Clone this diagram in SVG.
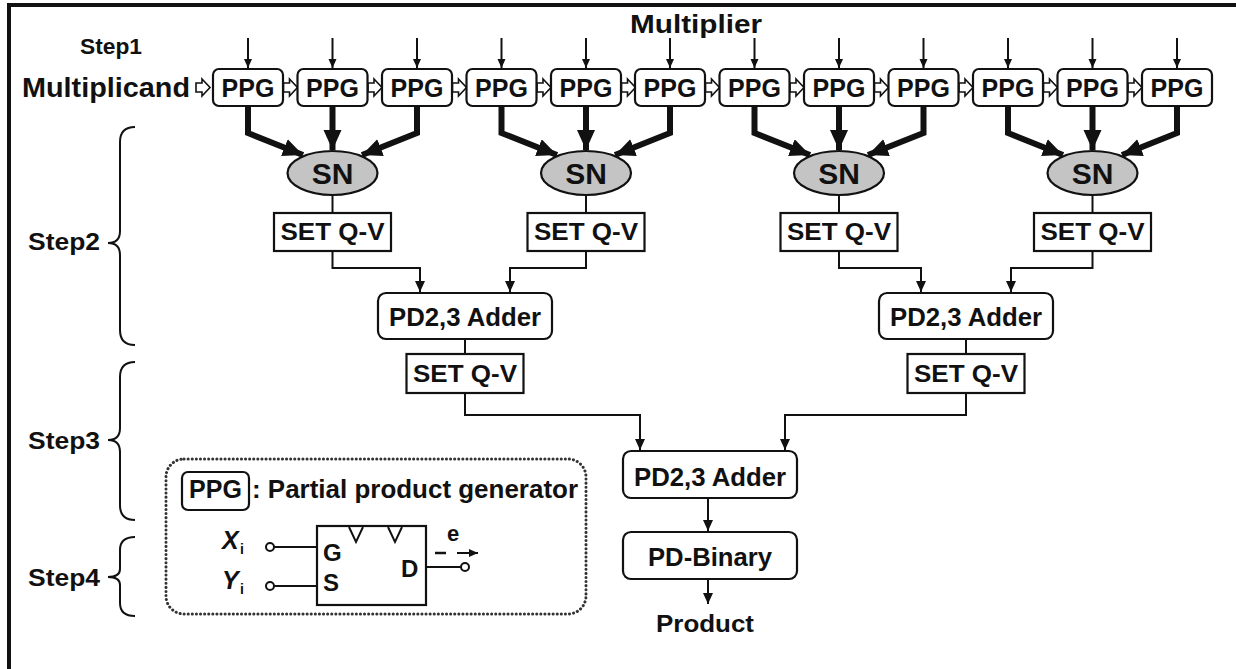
<svg xmlns="http://www.w3.org/2000/svg" width="1236" height="669" viewBox="0 0 1236 669">
<style>
text{font-family:"Liberation Sans",Arial,sans-serif;font-weight:bold;fill:#111}
.box{fill:#fff;stroke:#111;stroke-width:2.2}
.sn{fill:#c4c4c4;stroke:#111;stroke-width:2.2}
.thin{fill:none;stroke:#111;stroke-width:2}
.thick{fill:none;stroke:#111;stroke-width:6;stroke-linejoin:miter}
.ha{fill:#fff;stroke:#111;stroke-width:1.6;stroke-linejoin:miter}
.c{text-anchor:middle}
</style>
<defs>
<marker id="ah" markerUnits="userSpaceOnUse" markerWidth="12" markerHeight="12" refX="11" refY="5" orient="auto"><path d="M0,0 L11,5 L0,10 Z" fill="#111"/></marker>
<marker id="ahs" markerUnits="userSpaceOnUse" markerWidth="10" markerHeight="10" refX="9" refY="4" orient="auto"><path d="M0,0 L9,4 L0,8 Z" fill="#111"/></marker>
<marker id="aht" markerUnits="userSpaceOnUse" markerWidth="22" markerHeight="20" refX="20" refY="9" orient="auto"><path d="M0,0 L20,9 L0,18 Z" fill="#111"/></marker>
<path id="hollow" d="M0,-4.5 H6 V-8.5 L14,0 L6,8.5 V4.5 H0 Z"/>
</defs>
<rect x="0" y="0" width="1236" height="669" fill="#fff"/>
<line x1="7" y1="5" x2="1236" y2="5" stroke="#111" stroke-width="4"/>
<line x1="9" y1="3" x2="9" y2="669" stroke="#111" stroke-width="4"/>

<g id="labels">
<text x="630" y="33" font-size="25" textLength="132" lengthAdjust="spacingAndGlyphs">Multiplier</text>
<text x="80" y="54" font-size="22" textLength="62" lengthAdjust="spacingAndGlyphs">Step1</text>
<text x="22" y="97" font-size="27" textLength="168" lengthAdjust="spacingAndGlyphs">Multiplicand</text>
<text x="28" y="250" font-size="23" textLength="72" lengthAdjust="spacingAndGlyphs">Step2</text>
<text x="28" y="449" font-size="23" textLength="72" lengthAdjust="spacingAndGlyphs">Step3</text>
<text x="28" y="586" font-size="23" textLength="72" lengthAdjust="spacingAndGlyphs">Step4</text>
<text class="c" x="705" y="632" font-size="24" textLength="98" lengthAdjust="spacingAndGlyphs">Product</text>
</g>

<g id="braces" class="thin">
<path class="thin" d="M135,127 Q120,127 120,142 V231 Q120,243 108,243 Q120,243 120,255 V330 Q120,345 135,345"/>
<path class="thin" d="M135,362 Q120,362 120,377 V428 Q120,440 108,440 Q120,440 120,452 V505 Q120,520 135,520"/>
<path class="thin" d="M135,537 Q120,537 120,550 V569 Q120,577 108,577 Q120,577 120,585 V603 Q120,616 135,616"/>
</g>

<g id="connectors">
<g class="thin" stroke-width="1.6">
<line x1="248" y1="38" x2="248" y2="68" marker-end="url(#ahs)" class="thin"/>
<line x1="332.5" y1="38" x2="332.5" y2="68" marker-end="url(#ahs)" class="thin"/>
<line x1="417" y1="38" x2="417" y2="68" marker-end="url(#ahs)" class="thin"/>
<line x1="501.5" y1="38" x2="501.5" y2="68" marker-end="url(#ahs)" class="thin"/>
<line x1="586" y1="38" x2="586" y2="68" marker-end="url(#ahs)" class="thin"/>
<line x1="670" y1="38" x2="670" y2="68" marker-end="url(#ahs)" class="thin"/>
<line x1="754.5" y1="38" x2="754.5" y2="68" marker-end="url(#ahs)" class="thin"/>
<line x1="839" y1="38" x2="839" y2="68" marker-end="url(#ahs)" class="thin"/>
<line x1="923.5" y1="38" x2="923.5" y2="68" marker-end="url(#ahs)" class="thin"/>
<line x1="1008" y1="38" x2="1008" y2="68" marker-end="url(#ahs)" class="thin"/>
<line x1="1092.5" y1="38" x2="1092.5" y2="68" marker-end="url(#ahs)" class="thin"/>
<line x1="1177" y1="38" x2="1177" y2="68" marker-end="url(#ahs)" class="thin"/>
</g>
<use href="#hollow" class="ha" x="196" y="87.5"/>
<use href="#hollow" class="ha" x="283.5" y="87.5"/>
<use href="#hollow" class="ha" x="368" y="87.5"/>
<use href="#hollow" class="ha" x="452.5" y="87.5"/>
<use href="#hollow" class="ha" x="537" y="87.5"/>
<use href="#hollow" class="ha" x="621.5" y="87.5"/>
<use href="#hollow" class="ha" x="705.5" y="87.5"/>
<use href="#hollow" class="ha" x="790" y="87.5"/>
<use href="#hollow" class="ha" x="874.5" y="87.5"/>
<use href="#hollow" class="ha" x="959" y="87.5"/>
<use href="#hollow" class="ha" x="1043.5" y="87.5"/>
<use href="#hollow" class="ha" x="1128" y="87.5"/>
<path class="thick" d="M248,106 V133 L303,155" marker-end="url(#aht)"/>
<path class="thick" d="M332.5,106 V150" marker-end="url(#aht)"/>
<path class="thick" d="M417,106 V133 L362,155" marker-end="url(#aht)"/>
<path class="thick" d="M501.5,106 V133 L557,155" marker-end="url(#aht)"/>
<path class="thick" d="M586,106 V150" marker-end="url(#aht)"/>
<path class="thick" d="M670,106 V133 L615,155" marker-end="url(#aht)"/>
<path class="thick" d="M754.5,106 V133 L810,155" marker-end="url(#aht)"/>
<path class="thick" d="M839,106 V150" marker-end="url(#aht)"/>
<path class="thick" d="M923.5,106 V133 L868,155" marker-end="url(#aht)"/>
<path class="thick" d="M1008,106 V133 L1063,155" marker-end="url(#aht)"/>
<path class="thick" d="M1092.5,106 V150" marker-end="url(#aht)"/>
<path class="thick" d="M1177,106 V133 L1122,155" marker-end="url(#aht)"/>
<line class="thin" x1="332.5" y1="195" x2="332.5" y2="213"/>
<line class="thin" x1="586" y1="195" x2="586" y2="213"/>
<line class="thin" x1="839" y1="195" x2="839" y2="213"/>
<line class="thin" x1="1092.5" y1="195" x2="1092.5" y2="213"/>
<path class="thin" d="M332.5,251 V268 H420 V292" marker-end="url(#ah)"/>
<path class="thin" d="M586,251 V268 H510 V292" marker-end="url(#ah)"/>
<path class="thin" d="M839,251 V268 H921 V292" marker-end="url(#ah)"/>
<path class="thin" d="M1092.5,251 V268 H1011 V292" marker-end="url(#ah)"/>
<line class="thin" x1="465" y1="339" x2="465" y2="354"/>
<line class="thin" x1="966" y1="339" x2="966" y2="354"/>
<path class="thin" d="M465,393 V415 H640 V450" marker-end="url(#ah)"/>
<path class="thin" d="M966,393 V415 H785 V450" marker-end="url(#ah)"/>
<line class="thin" x1="708" y1="498" x2="708" y2="531" marker-end="url(#ah)"/>
<line class="thin" x1="708" y1="579" x2="708" y2="604" marker-end="url(#ah)"/>
</g>

<g id="ppg">
<g id="ppg0"><rect class="box" x="213" y="69" width="70" height="37" rx="6"/><text class="c" x="248" y="97" font-size="25">PPG</text></g>
<g id="ppg1"><rect class="box" x="297.5" y="69" width="70" height="37" rx="6"/><text class="c" x="332.5" y="97" font-size="25">PPG</text></g>
<g id="ppg2"><rect class="box" x="382" y="69" width="70" height="37" rx="6"/><text class="c" x="417" y="97" font-size="25">PPG</text></g>
<g id="ppg3"><rect class="box" x="466.5" y="69" width="70" height="37" rx="6"/><text class="c" x="501.5" y="97" font-size="25">PPG</text></g>
<g id="ppg4"><rect class="box" x="551" y="69" width="70" height="37" rx="6"/><text class="c" x="586" y="97" font-size="25">PPG</text></g>
<g id="ppg5"><rect class="box" x="635" y="69" width="70" height="37" rx="6"/><text class="c" x="670" y="97" font-size="25">PPG</text></g>
<g id="ppg6"><rect class="box" x="719.5" y="69" width="70" height="37" rx="6"/><text class="c" x="754.5" y="97" font-size="25">PPG</text></g>
<g id="ppg7"><rect class="box" x="804" y="69" width="70" height="37" rx="6"/><text class="c" x="839" y="97" font-size="25">PPG</text></g>
<g id="ppg8"><rect class="box" x="888.5" y="69" width="70" height="37" rx="6"/><text class="c" x="923.5" y="97" font-size="25">PPG</text></g>
<g id="ppg9"><rect class="box" x="973" y="69" width="70" height="37" rx="6"/><text class="c" x="1008" y="97" font-size="25">PPG</text></g>
<g id="ppg10"><rect class="box" x="1057.5" y="69" width="70" height="37" rx="6"/><text class="c" x="1092.5" y="97" font-size="25">PPG</text></g>
<g id="ppg11"><rect class="box" x="1142" y="69" width="70" height="37" rx="6"/><text class="c" x="1177" y="97" font-size="25">PPG</text></g>
</g>

<g id="sn">
<g id="sn0"><ellipse class="sn" cx="332.5" cy="173" rx="45" ry="22"/><text class="c" x="332.5" y="184" font-size="30">SN</text></g>
<g id="sn1"><ellipse class="sn" cx="586" cy="173" rx="45" ry="22"/><text class="c" x="586" y="184" font-size="30">SN</text></g>
<g id="sn2"><ellipse class="sn" cx="839" cy="173" rx="45" ry="22"/><text class="c" x="839" y="184" font-size="30">SN</text></g>
<g id="sn3"><ellipse class="sn" cx="1092.5" cy="173" rx="45" ry="22"/><text class="c" x="1092.5" y="184" font-size="30">SN</text></g>
</g>

<g id="setqv1">
<g id="set0"><rect class="box" x="274" y="213" width="117" height="38"/><text class="c" x="332.5" y="240" font-size="24" textLength="104" lengthAdjust="spacingAndGlyphs">SET Q-V</text></g>
<g id="set1"><rect class="box" x="527.5" y="213" width="117" height="38"/><text class="c" x="586" y="240" font-size="24" textLength="104" lengthAdjust="spacingAndGlyphs">SET Q-V</text></g>
<g id="set2"><rect class="box" x="780.5" y="213" width="117" height="38"/><text class="c" x="839" y="240" font-size="24" textLength="104" lengthAdjust="spacingAndGlyphs">SET Q-V</text></g>
<g id="set3"><rect class="box" x="1034" y="213" width="117" height="38"/><text class="c" x="1092.5" y="240" font-size="24" textLength="104" lengthAdjust="spacingAndGlyphs">SET Q-V</text></g>
</g>

<g id="adders">
<g id="adderL"><rect class="box" x="378" y="293" width="174" height="46" rx="8"/><text class="c" x="465" y="326" font-size="25" textLength="152" lengthAdjust="spacingAndGlyphs">PD2,3 Adder</text></g>
<g id="adderR"><rect class="box" x="879" y="293" width="174" height="46" rx="8"/><text class="c" x="966" y="326" font-size="25" textLength="152" lengthAdjust="spacingAndGlyphs">PD2,3 Adder</text></g>
<g id="set4"><rect class="box" x="406.5" y="354" width="117" height="39"/><text class="c" x="465" y="382" font-size="24" textLength="104" lengthAdjust="spacingAndGlyphs">SET Q-V</text></g>
<g id="set5"><rect class="box" x="907.5" y="354" width="117" height="39"/><text class="c" x="966" y="382" font-size="24" textLength="104" lengthAdjust="spacingAndGlyphs">SET Q-V</text></g>
<g id="adderF"><rect class="box" x="623" y="451" width="174" height="47" rx="8"/><text class="c" x="710" y="486" font-size="25" textLength="152" lengthAdjust="spacingAndGlyphs">PD2,3 Adder</text></g>
<g id="pdbin"><rect class="box" x="623" y="532" width="174" height="47" rx="8"/><text class="c" x="710" y="566" font-size="25" textLength="124" lengthAdjust="spacingAndGlyphs">PD-Binary</text></g>
</g>

<g id="legend">
<rect x="166" y="459" width="420" height="155" rx="18" fill="none" stroke="#333" stroke-width="3" stroke-dasharray="0.1 4" stroke-linecap="round"/>
<rect class="box" x="182" y="472" width="67" height="38" rx="6"/>
<text x="215.5" y="498" class="c" font-size="25">PPG</text>
<text x="252" y="498" font-size="26" textLength="326" lengthAdjust="spacingAndGlyphs">: Partial product generator</text>
<rect x="317" y="526" width="109" height="79" fill="#fff" stroke="#111" stroke-width="2.2"/>
<polyline class="thin" points="349,527 356,542 363,527"/>
<polyline class="thin" points="388,527 395,542 402,527"/>
<text x="323" y="561" font-size="24">G</text>
<text x="323" y="591" font-size="24">S</text>
<text x="401" y="577" font-size="24">D</text>
<text x="222" y="549" font-size="25" font-style="italic">X</text>
<text x="240" y="554" font-size="14">i</text>
<text x="222" y="589" font-size="25" font-style="italic">Y</text>
<text x="240" y="594" font-size="14">i</text>
<line class="thin" x1="274" y1="547" x2="317" y2="547"/>
<circle cx="270" cy="547" r="4" fill="#fff" stroke="#111" stroke-width="2"/>
<line class="thin" x1="274" y1="586" x2="317" y2="586"/>
<circle cx="270" cy="586" r="4" fill="#fff" stroke="#111" stroke-width="2"/>
<line class="thin" x1="426" y1="567" x2="461" y2="567"/>
<circle cx="465" cy="567" r="4" fill="#fff" stroke="#111" stroke-width="2"/>
<text x="447" y="541" font-size="22">e</text>
<line x1="435" y1="553" x2="446" y2="553" stroke="#111" stroke-width="2.5"/>
<line x1="457" y1="553" x2="478" y2="553" stroke="#111" stroke-width="2" marker-end="url(#ahs)"/>
</g>
</svg>
